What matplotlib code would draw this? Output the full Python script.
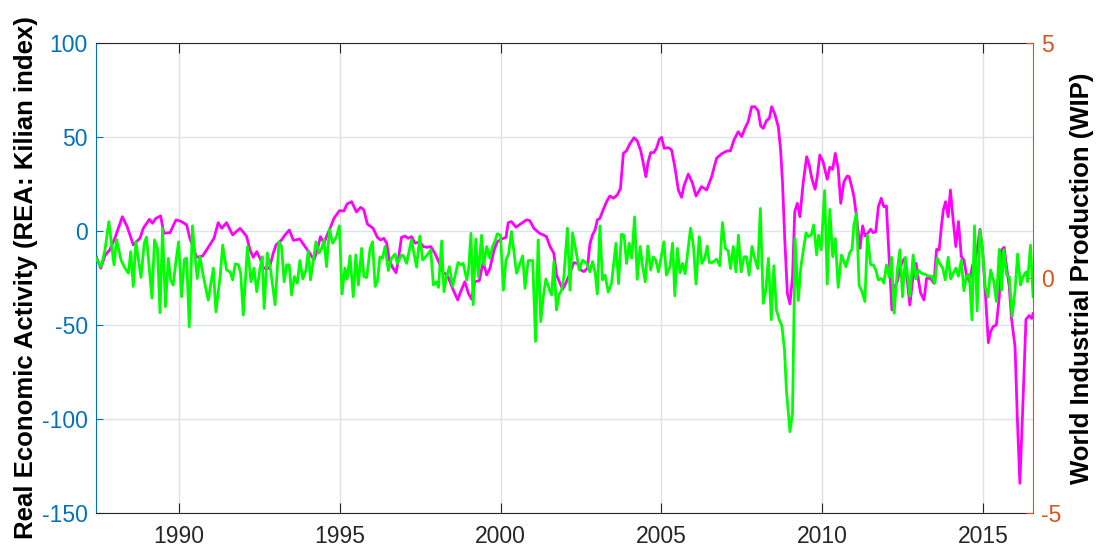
# Activité économique réelle (Kilian) et production industrielle mondiale
import matplotlib.pyplot as plt

plt.rcParams['font.family'] = ['Liberation Sans', 'DejaVu Sans']
plt.rcParams['axes.unicode_minus'] = False

# Série REA (axe gauche) : dates en années décimales
anneesREA = [1987.42, 1987.57, 1987.70, 1987.85, 1988.01, 1988.24, 1988.39, 1988.58, 1988.79, 1988.89,
             1989.08, 1989.18, 1989.28, 1989.43, 1989.53, 1989.72, 1989.91, 1990.08, 1990.24, 1990.34,
             1990.55, 1990.74, 1990.96, 1991.09, 1991.22, 1991.33, 1991.48, 1991.67, 1991.90,
             1992.10, 1992.21, 1992.31, 1992.42, 1992.52, 1992.64, 1992.81, 1992.93, 1993.02, 1993.19,
             1993.30, 1993.43, 1993.56, 1993.76, 1993.92, 1994.07, 1994.20, 1994.30, 1994.40, 1994.51,
             1994.61, 1994.72, 1994.82, 1994.99, 1995.13, 1995.23, 1995.37, 1995.52, 1995.65, 1995.75,
             1995.86, 1996.04, 1996.17, 1996.27, 1996.37, 1996.46, 1996.54, 1996.64,
             1996.75, 1996.82, 1996.92, 1997.03, 1997.13, 1997.23, 1997.34, 1997.49, 1997.60, 1997.72,
             1997.83, 1997.96, 1998.10, 1998.22, 1998.32, 1998.43, 1998.53, 1998.67, 1998.76, 1998.89,
             1999.00, 1999.10, 1999.20, 1999.34, 1999.46, 1999.57, 1999.67, 1999.80, 1999.90, 2000.03,
             2000.17, 2000.24, 2000.34, 2000.48, 2000.62, 2000.81, 2000.91, 2001.04, 2001.21, 2001.33,
             2001.43,
             2001.54, 2001.66, 2001.74, 2001.85, 2001.93, 2002.03, 2002.16, 2002.28, 2002.39, 2002.49,
             2002.59, 2002.70, 2002.78, 2002.86, 2002.94, 2003.01, 2003.09, 2003.19, 2003.30, 2003.40,
             2003.51, 2003.63, 2003.73, 2003.82, 2003.92, 2004.02, 2004.15, 2004.25, 2004.36, 2004.44,
             2004.52, 2004.59, 2004.67, 2004.77, 2004.85, 2004.94, 2005.01, 2005.09, 2005.22, 2005.32,
             2005.42, 2005.53, 2005.63, 2005.70, 2005.84, 2005.97, 2006.08,
             2006.25, 2006.41, 2006.56, 2006.72, 2006.87, 2007.03, 2007.15, 2007.26, 2007.39, 2007.50,
             2007.60, 2007.70, 2007.81, 2007.91, 2008.01, 2008.09, 2008.17, 2008.27, 2008.36, 2008.43,
             2008.53, 2008.64, 2008.71, 2008.77, 2008.84, 2008.92, 2009.00, 2009.08, 2009.15, 2009.23,
             2009.31, 2009.41, 2009.52, 2009.60, 2009.68, 2009.78, 2009.85, 2009.93, 2010.03, 2010.16,
             2010.24, 2010.33, 2010.41, 2010.50, 2010.58, 2010.68, 2010.78, 2010.84,
             2010.92, 2010.99, 2011.07, 2011.18, 2011.26, 2011.34, 2011.42, 2011.51, 2011.59, 2011.67,
             2011.75, 2011.84, 2011.92, 2012.00, 2012.09, 2012.17, 2012.25, 2012.34,
             2012.42, 2012.50, 2012.57, 2012.65, 2012.73, 2012.81, 2012.92, 2012.99, 2013.06, 2013.17,
             2013.25, 2013.37, 2013.48, 2013.56, 2013.64, 2013.71, 2013.77, 2013.84, 2013.92, 2013.99,
             2014.08, 2014.16, 2014.24, 2014.33, 2014.41, 2014.49, 2014.58, 2014.68, 2014.75, 2014.82,
             2014.91, 2014.99, 2015.09, 2015.17, 2015.24, 2015.32, 2015.42, 2015.51, 2015.58, 2015.66,
             2015.74, 2015.82, 2015.89, 2016.00, 2016.07, 2016.15, 2016.23, 2016.34, 2016.44, 2016.52,
             2016.56]
valREA = [-13.3, -19.8, -13.0, -10.0, -3.7, 7.6, 2.3, -7.4, -3.8, 1.4,
          6.2, 4.1, 6.7, 8.0, -1.2, -0.9, 5.9, 5.0, 3.2, -3.9,
          -14.0, -13.3, -7.4, -3.9, 4.4, 1.4, 4.4, -2.1, 1.4,
          -2.7, -10.1, -14.0, -11.0, -14.5, -19.9, -19.9, -11.9, -7.4, -4.8,
          -2.1, 0.5, -5.0, -4.3, -8.3, -11.9, -15.4, -10.1, -3.0, -6.5,
          -2.1, 2.3, 6.7, 10.8, 10.6, 14.4, 15.6, 10.1, 12.6, 11.2,
          3.7, 1.4, -3.4, -4.8, -3.9, -6.5, -15.4, -19.3,
          -22.2, -15.4, -3.4, -2.7, -3.9, -3.0, -6.5, -5.7, -8.3, -8.7,
          -8.3, -11.9, -17.2, -22.5, -22.9, -27.0, -31.4, -36.7, -32.3, -27.0,
          -33.1, -36.3, -27.0, -26.4, -16.3, -23.4, -19.9, -10.1, -5.7, -4.3,
          -3.4, 4.4, 5.0, 2.0, 3.7, 5.9, 5.5, 1.4, -1.2, -2.1,
          -3.0,
          -8.3, -11.9, -23.4, -27.8, -31.0, -27.8, -22.5, -16.8, -17.2, -20.7,
          -21.6, -19.9, -6.9, -2.1, 0.5, 5.9, 6.7, 11.2, 15.6, 18.6,
          17.4, 19.1, 22.7, 41.3, 42.7, 46.3, 49.6, 48.0, 42.7, 36.0,
          28.9, 36.7, 41.7, 41.7, 44.0, 48.8, 49.8, 44.0, 44.3, 43.1,
          34.2, 21.8, 17.9, 23.6, 30.3, 25.4, 18.6,
          23.6, 21.8, 28.6, 38.7, 41.0, 42.5, 42.7, 48.4, 52.8, 50.2,
          54.6, 58.1, 66.1, 66.1, 64.0, 55.9, 54.6, 58.7, 59.9, 66.1,
          62.2, 55.3, 43.1, 25.4, -4.8, -33.1, -38.8, -24.3, 10.3, 14.7,
          7.6, 25.4, 39.5, 35.1, 28.0, 22.2, 28.9, 40.4, 36.9, 27.5,
          33.9, 32.8, 41.3, 33.3, 14.7, 26.2, 29.2, 28.9,
          23.6, 18.3, 7.6, -9.2, 2.7, -2.7, -1.2, 0.9, -0.9, -0.4,
          12.9, 17.4, 12.9, 13.3, -15.4, -42.0, -29.6, -27.0,
          -20.0, -16.3, -14.5, -27.0, -39.4, -27.0, -17.2, -25.2, -32.8, -36.7,
          -25.2, -25.2, -27.8, -9.8, -10.1, 2.3, 11.2, 15.6, 7.6, 21.8,
          5.0, -8.3, 5.0, -13.7, -15.4, -23.4, -27.0, -18.1, -17.2, -10.1,
          0.9, -10.1, -36.7, -59.4, -53.5, -50.9, -50.0, -34.9, -10.1, -8.7,
          -19.5, -29.6, -46.5, -61.5, -98.8, -134.2, -98.8, -47.0, -45.0, -46.5,
          -44.0]

# Série WIP (axe droit)
anneesWIP = [1987.42, 1987.58, 1987.70, 1987.82, 1987.98, 1988.06, 1988.20, 1988.32, 1988.43, 1988.50,
             1988.58, 1988.66, 1988.82, 1988.92, 1988.99, 1989.08, 1989.16, 1989.24, 1989.33, 1989.41,
             1989.49, 1989.58, 1989.67, 1989.74, 1989.82, 1989.91, 1989.99, 1990.08, 1990.17, 1990.24,
             1990.32, 1990.42, 1990.50, 1990.57, 1990.65, 1990.76, 1990.91, 1991.07, 1991.15, 1991.28,
             1991.36, 1991.48, 1991.59, 1991.67, 1991.75, 1991.85,
             1991.92, 1992.00, 1992.13, 1992.24, 1992.33, 1992.42, 1992.52, 1992.59, 1992.65, 1992.75,
             1992.85, 1992.99, 1993.11, 1993.19, 1993.27, 1993.35, 1993.43, 1993.50, 1993.59, 1993.68,
             1993.76, 1993.85, 1993.95, 1994.02, 1994.09, 1994.18, 1994.26, 1994.36, 1994.44, 1994.51,
             1994.59, 1994.68, 1994.78, 1994.90, 1994.99, 1995.07, 1995.16, 1995.23, 1995.32, 1995.42,
             1995.50, 1995.58, 1995.68, 1995.75, 1995.84, 1995.94, 1996.02, 1996.10, 1996.17, 1996.25,
             1996.33, 1996.41, 1996.51, 1996.61, 1996.72, 1996.79,
             1996.92, 1996.98, 1997.08, 1997.23, 1997.39, 1997.49, 1997.58, 1997.70, 1997.83, 1997.91,
             1998.00, 1998.07, 1998.17, 1998.24, 1998.32, 1998.41, 1998.51, 1998.59, 1998.68, 1998.76,
             1998.84, 1998.95, 1999.01, 1999.08, 1999.15, 1999.23, 1999.31, 1999.41, 1999.48, 1999.57,
             1999.67, 1999.75, 1999.83, 1999.90, 2000.00, 2000.09, 2000.17, 2000.25, 2000.34, 2000.50,
             2000.60, 2000.69, 2000.76, 2000.86, 2001.00, 2001.09, 2001.17, 2001.25, 2001.33, 2001.41,
             2001.54,
             2001.59, 2001.66, 2001.74, 2001.83, 2001.90, 2001.97, 2002.08, 2002.16, 2002.24, 2002.34,
             2002.45, 2002.55, 2002.68, 2002.78, 2002.86, 2002.94, 2003.01, 2003.09, 2003.17, 2003.25,
             2003.35, 2003.45, 2003.53, 2003.59, 2003.67, 2003.76, 2003.84, 2003.92, 2004.00, 2004.08,
             2004.17, 2004.25, 2004.34, 2004.42, 2004.50, 2004.58, 2004.67, 2004.75, 2004.83, 2004.91,
             2004.98, 2005.08, 2005.16, 2005.27, 2005.35, 2005.42, 2005.50, 2005.58, 2005.66, 2005.74,
             2005.84, 2005.91, 2006.00, 2006.08, 2006.18,
             2006.26, 2006.35, 2006.43, 2006.49, 2006.59, 2006.72, 2006.82, 2006.90, 2006.99, 2007.08,
             2007.15, 2007.24, 2007.32, 2007.40, 2007.48, 2007.57, 2007.65, 2007.73, 2007.82, 2007.92,
             2008.00, 2008.08, 2008.17, 2008.25, 2008.33, 2008.42, 2008.50, 2008.58, 2008.67, 2008.75,
             2008.83, 2008.89, 2009.00, 2009.08, 2009.16, 2009.26, 2009.34, 2009.41, 2009.50, 2009.58,
             2009.66, 2009.74, 2009.83, 2009.89, 2009.97, 2010.08, 2010.16, 2010.24, 2010.33, 2010.41,
             2010.50, 2010.60, 2010.74, 2010.86,
             2010.93, 2010.99, 2011.07, 2011.15, 2011.24, 2011.33, 2011.41, 2011.51, 2011.59, 2011.67,
             2011.75, 2011.84, 2011.92, 2012.00, 2012.09, 2012.16, 2012.24, 2012.34,
             2012.42, 2012.50, 2012.59, 2012.65, 2012.73, 2012.83, 2012.92, 2012.99, 2013.09, 2013.20,
             2013.30, 2013.40, 2013.51, 2013.58, 2013.66, 2013.75, 2013.83, 2013.92, 2014.00, 2014.08,
             2014.16, 2014.24, 2014.33, 2014.41, 2014.49, 2014.58, 2014.66, 2014.74, 2014.82, 2014.91,
             2014.99, 2015.07, 2015.16, 2015.24, 2015.34, 2015.42, 2015.51, 2015.58, 2015.65, 2015.74,
             2015.82, 2015.91, 2016.00, 2016.08, 2016.17, 2016.25, 2016.34, 2016.39, 2016.48, 2016.56]
valWIP = [0.42, 0.24, 0.60, 1.20, 0.28, 0.82, 0.38, 0.21, 0.10, 0.56,
          -0.18, 0.77, 0.01, 0.74, 0.87, 0.17, -0.43, 0.81, 0.63, -0.74,
          1.06, -0.61, 0.42, -0.04, -0.15, 0.38, 0.77, -0.40, 0.40, 0.42,
          -1.04, 1.11, 0.45, -0.01, 0.45, 0.03, -0.47, 0.21, -0.72, 0.03,
          0.70, 0.17, 0.13, -0.04, 0.30, 0.28,
          0.10, -0.79, 0.67, -0.08, 0.21, -0.29, 0.21, 0.45, -0.65, 0.53,
          0.17, -0.57, 0.77, 0.67, -0.08, 0.28, 0.28, -0.36, 0.03, -0.11,
          0.37, -0.02, 0.17, 0.58, -0.04, 0.38, 0.77, 0.53, 0.63, 0.81,
          0.24, 1.04, 0.74, 0.88, 1.11, -0.34, 0.21, -0.02, 0.47, -0.40,
          0.49, -0.15, 0.63, 0.03, 0.01, 0.61, 0.77, -0.18, -0.08, 0.45,
          0.42, 0.67, 0.16, 0.42, 0.51, 0.31,
          0.49, 0.47, 0.31, 0.81, 0.23, 0.89, 0.38, 0.47, 0.60, -0.15,
          -0.08, -0.20, 0.79, -0.29, 0.03, 0.24, -0.18, 0.06, 0.33, 0.28,
          0.31, -0.04, 0.21, 0.95, -0.57, 0.83, 0.03, 0.91, 0.28, 0.67,
          0.42, 0.67, 0.79, 0.94, 0.91, -0.26, 0.38, 0.51, 0.99, 0.10,
          0.30, 0.47, -0.22, 0.37, 0.37, -1.35, 0.81, -0.93, -0.40, -0.02,
          -0.29,
          -0.36, 0.35, -0.68, -0.34, -0.26, 0.03, 1.06, -0.26, 0.96, 0.60,
          0.17, 0.38, 0.31, 0.13, 0.35, 0.13, -0.34, 1.11, -0.04, 0.06,
          -0.30, -0.12, 0.38, 0.74, -0.12, 0.93, 0.91, 0.31, 0.74, 0.42,
          1.30, -0.03, 0.67, 0.24, -0.08, 0.68, 0.17, 0.45, 0.38, 0.13,
          0.38, 0.77, 0.06, 0.24, 0.74, -0.38, 0.63, 0.11, 0.31, 0.09,
          0.67, 1.06, 0.67, -0.13, 0.88,
          0.31, 0.42, 0.68, 0.33, 0.33, 0.40, 0.26, 1.18, 0.63, 0.58,
          0.20, 0.67, 0.13, 0.91, 0.13, 0.45, 0.45, 0.06, 0.67, 0.38,
          0.20, 1.48, -0.54, -0.26, 0.42, -0.89, 0.26, -0.68, -0.89, -1.02,
          -1.53, -2.38, -3.27, -2.88, 0.84, -0.48, 0.24, 0.56, 0.96, 0.88,
          0.91, 1.13, 0.49, 0.91, 0.60, 1.86, -0.13, 1.46, 0.45, 0.84,
          -0.20, 0.49, 0.24, 0.54,
          0.61, 1.13, 1.38, -0.15, -0.29, -0.50, 0.91, 0.28, 0.28, 0.17,
          -0.04, -0.01, -0.11, 0.28, 0.01, 0.44, -0.75, 0.17,
          0.60, -0.40, 0.44, 0.10, -0.39, 0.49, -0.02, 0.17, 0.10, 0.08,
          0.04, 0.04, -0.11, 0.42, 0.31, 0.21, -0.04, 0.44, -0.02, 0.10,
          0.21, 0.04, 0.38, -0.27, 0.04, 0.08, -0.89, 1.11, -0.70, 1.02,
          0.60, -0.18, -0.40, 0.17, -0.08, -0.50, 0.61, -0.26, 0.60, 0.06,
          0.03, -0.82, -0.26, 0.51, -0.15, 0.03, 0.13, -0.08, 0.70, -0.40]

ticksAnnees = [1990, 1995, 2000, 2005, 2010, 2015]
ticksREA = [-150, -100, -50, 0, 50, 100]
ticksWIP = [-5, 0, 5]

bleu = '#0072BD'
orange = '#D95319'
gris = '#262626'

fig = plt.figure(figsize=(10.97, 5.47), dpi=100)
ax1 = fig.add_axes([0.0875, 0.0622, 0.8542, 0.8592])
ax2 = ax1.twinx()

ax1.plot(anneesREA, valREA, color='#FF00FF', lw=2)
ax2.plot(anneesWIP, valWIP, color='#00FF00', lw=2)

ax1.set_xlim(1987.42, 2016.56)
ax1.set_ylim(-150, 100)
ax2.set_ylim(-5, 5)
ax1.set_xticks(ticksAnnees)
ax1.set_yticks(ticksREA)
ax2.set_yticks(ticksWIP)

# grille façon matlab
ax1.set_axisbelow(True)
ax1.xaxis.grid(True, color='#e0e0e0', lw=1)
ax1.yaxis.grid(True, color='#dce4ee', lw=1)

ax1.tick_params(axis='x', direction='in', length=7, top=True, colors=gris, labelsize=16.5, pad=9)
ax1.tick_params(axis='y', direction='in', length=5, colors=bleu, labelsize=16.5, pad=6)
ax2.tick_params(axis='y', direction='in', length=5, colors=orange, labelsize=16.5, pad=6)

ax1.spines['left'].set_color(bleu)
ax1.spines['right'].set_visible(False)
ax1.spines['top'].set_color(gris)
ax1.spines['bottom'].set_color(gris)
ax2.spines['right'].set_color(orange)
ax2.spines['left'].set_visible(False)
ax2.spines['top'].set_visible(False)
ax2.spines['bottom'].set_visible(False)

ax1.set_ylabel('Real Economic Activity (REA: Kilian index)', fontsize=18.5, fontweight='bold', color='black', labelpad=3)
ax2.set_ylabel('World Industrial Production (WIP)', fontsize=18.5, fontweight='bold', color='black', labelpad=6)

fig.savefig('out.png', dpi=100)
